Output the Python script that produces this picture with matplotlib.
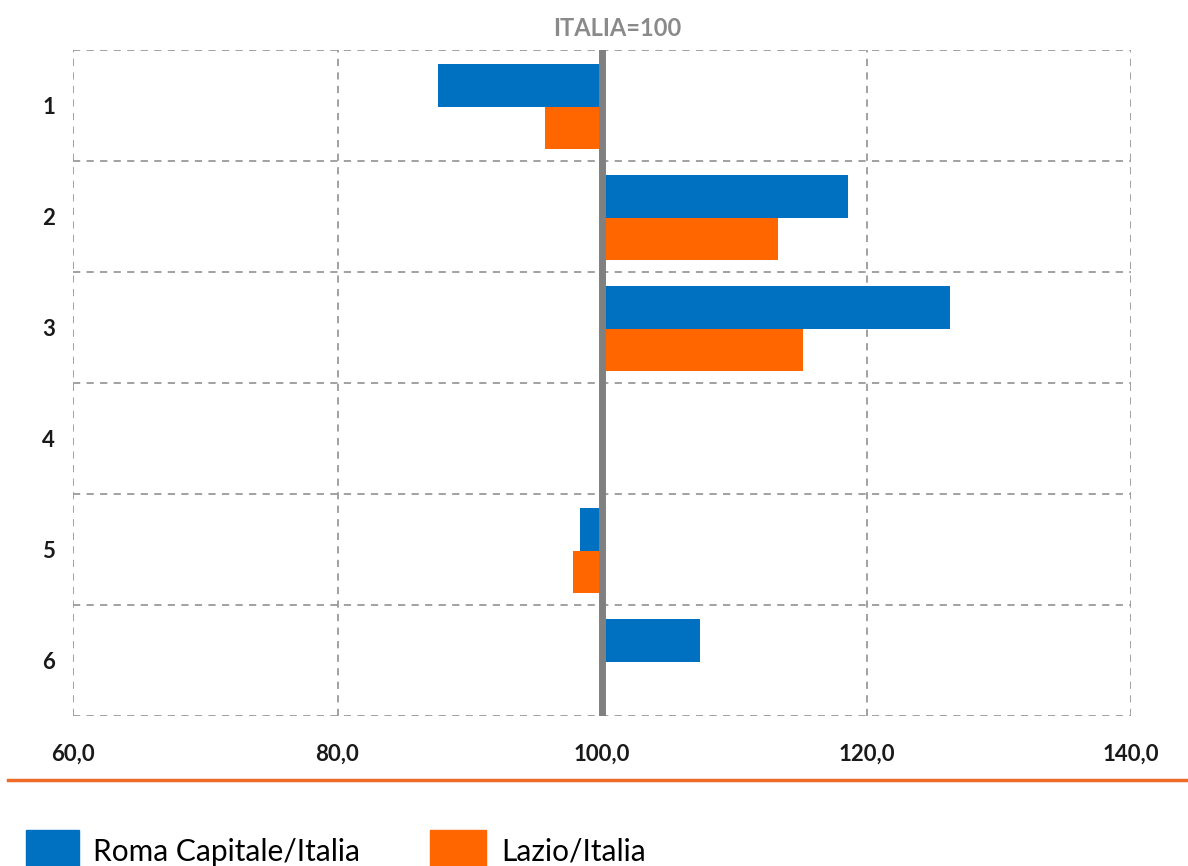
import matplotlib
matplotlib.use("Agg")
import matplotlib.pyplot as plt
from matplotlib.patches import Rectangle
from matplotlib.lines import Line2D

# values relative to Italia = 100
categories = ["1", "2", "3", "4", "5", "6"]
roma = [87.6, 118.6, 126.3, 100.0, 98.3, 107.4]
lazio = [95.7, 113.3, 115.2, 100.0, 97.8, 100.0]
xticks = [60, 80, 100, 120, 140]
base = 100.0

blue = "#0070C0"
orange = "#FF6600"
grid_col = "#9A9A9A"

plt.rcParams["font.family"] = ["Lato", "DejaVu Sans"]

fig = plt.figure(figsize=(11.88, 8.66), dpi=100)
ax = fig.add_axes([73 / 1188, 1 - 716 / 866, (1131 - 73) / 1188, (716 - 50) / 866])

pos = list(range(len(categories)))
h = 0.38
ax.barh([p - h / 2 + 0.01 for p in pos], [r - base for r in roma], left=base, height=h,
        color=blue, zorder=2)
ax.barh([p + h / 2 + 0.01 for p in pos], [l - base for l in lazio], left=base, height=h,
        color=orange, zorder=2)

ax.set_xlim(60, 140)
ax.set_ylim(len(categories) - 0.5, -0.5)

# dashed grid (vertical at ticks, horizontal between categories)
for x in xticks:
    ax.axvline(x, color=grid_col, ls=(0, (4, 3.5)), lw=1.3, zorder=1)
for b in range(len(categories) + 1):
    ax.axhline(b - 0.5, color=grid_col, ls=(0, (4, 3.5)), lw=1.3, zorder=1)

ax.axvline(base, color="#808080", lw=5, zorder=3)

for s in ax.spines.values():
    s.set_visible(False)

ax.set_xticks(xticks)
ax.set_xticklabels([f"{x:.1f}".replace(".", ",") for x in xticks],
                   fontsize=16, fontweight="bold", color="#1a1a1a")
ax.set_yticks(pos)
ax.set_yticklabels(categories, fontsize=16, fontweight="bold", color="#1a1a1a")
ax.tick_params(length=0)
ax.tick_params(axis="x", pad=20)
ax.tick_params(axis="y", pad=13)

fig.text(617 / 1188, 1 - 28 / 866, "ITALIA=100", ha="center", va="center",
         fontsize=17, fontweight="bold", color="#8a8a8a")

# orange separator line
fig.add_artist(Line2D([8 / 1188, 1.0], [1 - 780 / 866] * 2, color="#ED6B27", lw=2.5))

# legend
fig.add_artist(Rectangle((26 / 1188, 0), 53 / 1188, 36 / 866, color=blue))
fig.text(93 / 1188, 1 - 852 / 866, "Roma Capitale/Italia", va="center",
         fontsize=21.5, color="black")
fig.add_artist(Rectangle((430 / 1188, 0), 56 / 1188, 36 / 866, color=orange))
fig.text(501 / 1188, 1 - 852 / 866, "Lazio/Italia", va="center",
         fontsize=21.5, color="black")

fig.savefig("out.png", dpi=100)
